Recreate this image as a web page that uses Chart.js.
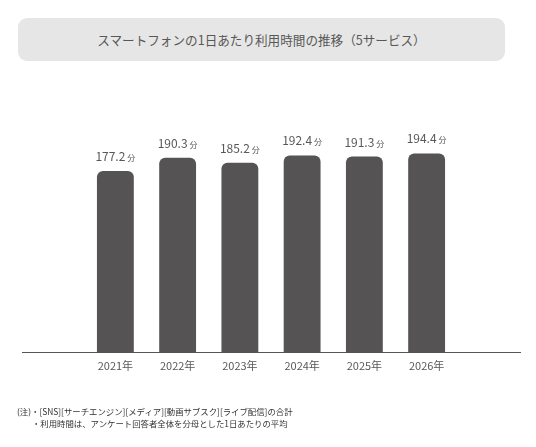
<!DOCTYPE html>
<html>
<head>
<meta charset="utf-8">
<script src="https://cdn.jsdelivr.net/npm/chart.js@4"></script>
<style>
  body { margin: 0; background: #fff; font-family: "Noto Sans CJK JP", "Noto Sans", sans-serif; }
  #wrap { position: relative; width: 536px; height: 447px; }
  #chart { position: absolute; left: 0; top: 0; }
  .title {
    position: absolute; left: 18px; top: 18px; width: 487px; height: 43px;
    background: #e6e6e6; border-radius: 9px; color: #595757;
    font-size: 12.6px; line-height: 43px; text-align: center;
  }
  .note { position: absolute; left: 17px; top: 405px; font-size: 8.4px; color: #333; line-height: 12px; }
  .note div + div { padding-left: 15px; }
</style>
</head>
<body>
<div id="wrap">
  <canvas id="chart" width="536" height="447"></canvas>
  <div class="title">スマートフォンの1日あたり利用時間の推移（5サービス）</div>
  <div class="note">
    <div>(注)・[SNS][サーチエンジン][メディア][動画サブスク][ライブ配信]の合計</div>
    <div>・利用時間は、アンケート回答者全体を分母とした1日あたりの平均</div>
  </div>
</div>
<script>
// data
var years = ["2021年", "2022年", "2023年", "2024年", "2025年", "2026年"];
var minutes = [177.2, 190.3, 185.2, 192.4, 191.3, 194.4];
var unit = "分";

// one blank slot each side so the base line runs wider than the bars
var labels = [""].concat(years, [""]);
var values = [null].concat(minutes, [null]);

var textColor = "#595757";

// value labels: number + small unit
var valueLabels = {
  id: "valueLabels",
  afterDatasetsDraw: function(chart) {
    var ctx = chart.ctx;
    var meta = chart.getDatasetMeta(0);
    ctx.save();
    ctx.fillStyle = textColor;
    ctx.textBaseline = "alphabetic";
    meta.data.forEach(function(bar, i) {
      var v = values[i];
      if (v == null) return;
      var num = v.toFixed(1);
      ctx.font = "12px 'Noto Sans CJK JP'";
      var w1 = ctx.measureText(num).width;
      ctx.font = "8px 'Noto Sans CJK JP'";
      var w2 = ctx.measureText(unit).width;
      var x = bar.x - (w1 + 2 + w2) / 2;
      var y = bar.y - 10;
      ctx.font = "12px 'Noto Sans CJK JP'";
      ctx.textAlign = "left";
      ctx.fillText(num, x, y);
      ctx.font = "8px 'Noto Sans CJK JP'";
      ctx.fillText(unit, x + w1 + 2, y);
    });
    ctx.restore();
  }
};

new Chart(document.getElementById("chart"), {
  type: "bar",
  data: {
    labels: labels,
    datasets: [{
      data: values,
      backgroundColor: "#555353",
      borderRadius: { topLeft: 6, topRight: 6 },
      borderSkipped: "bottom",
      barPercentage: 0.8,
      categoryPercentage: 0.74
    }]
  },
  options: {
    responsive: false,
    animation: false,
    layout: { padding: { left: 22, right: 16, top: 80, bottom: 69 } },
    plugins: { legend: { display: false }, tooltip: { enabled: false } },
    scales: {
      x: {
        grid: { display: false, drawTicks: false },
        border: { color: "#555", width: 1 },
        ticks: { color: textColor, font: { size: 11, family: "Noto Sans CJK JP" }, padding: 6 }
      },
      y: {
        display: false,
        min: 0,
        max: 266
      }
    }
  },
  plugins: [valueLabels]
});
</script>
</body>
</html>
